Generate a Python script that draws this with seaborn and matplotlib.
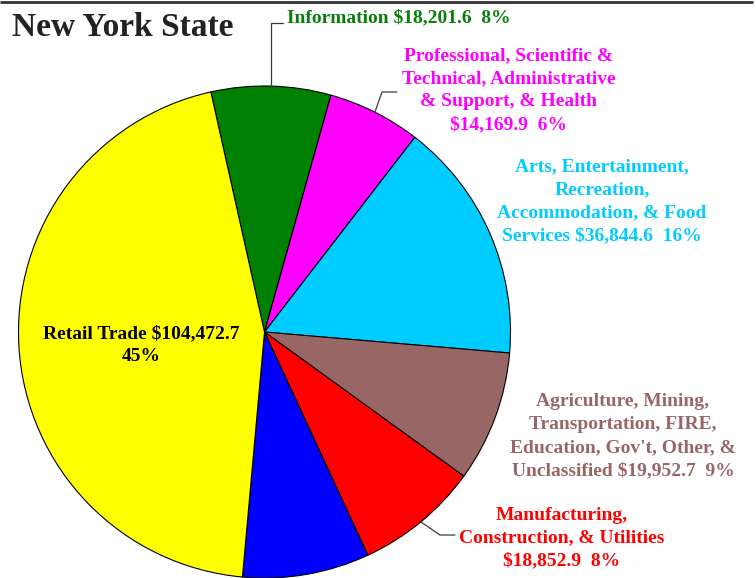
import numpy as np
import matplotlib
matplotlib.use("Agg")
import matplotlib.pyplot as plt
import seaborn as sns

# data ($ millions, shares in %)
sectors = ["Information",
           "Professional, Scientific &\nTechnical, Administrative\n& Support, & Health\n",
           "Arts, Entertainment,\nRecreation,\nAccommodation, & Food\nServices",
           "Agriculture, Mining,\nTransportation, FIRE,\nEducation, Gov't, Other, &\nUnclassified",
           "Manufacturing,\nConstruction, & Utilities\n",
           "",
           "Retail Trade"]
values = [18201.6, 14169.9, 36844.6, 19952.7, 18852.9, 19300.0, 104472.7]
shares = [8, 6, 16, 9, 8, None, 45]
slice_colors = ["#008000", "#FF00FF", "#00CCFF", "#996666", "#FF0000", "#0000FF", "#FFFF00"]
text_colors = ["#0B7D0B", "#FF00FF", "#00CCFF", "#996666", "#FF0000", "#0000FF", "#000000"]

sns.set_theme(style="white")
plt.rcParams['font.family'] = ['Liberation Serif', 'DejaVu Serif']

W, H = 756, 578
fig = plt.figure(figsize=(W / 100, H / 100), dpi=100)
ax = fig.add_axes([0, 0, 1, 1])


def Y(y):
    # image pixel row -> axes y
    return H - y


cx, cy, r = 264.5, Y(332), 246
palette = sns.color_palette(slice_colors)
wedges, _ = ax.pie(values, colors=palette, startangle=102.6, counterclock=False,
                   center=(cx, cy), radius=r,
                   wedgeprops=dict(edgecolor="black", linewidth=0.8))
ax.set_xlim(0, W)
ax.set_ylim(0, H)
ax.set_aspect("equal")
ax.axis("off")


def anchor(w):
    t = np.deg2rad((w.theta1 + w.theta2) / 2)
    return cx + r * np.cos(t), cy + r * np.sin(t)


# labels: (index, x, y, ha)
label_pos = [(0, 287, 18, "left"),
             (1, 509, 90, "center"),
             (2, 602, 201, "center"),
             (3, 623, 436, "center"),
             (4, 562, 538, "center"),
             (6, 141, 345, "center")]
for i, x, y, ha in label_pos:
    sep = "\n" if i == 6 else "  "
    name = sectors[i]
    if not name.endswith("\n"):
        name += " "
    txt = "{}${:,.1f}{}{}%".format(name, values[i], sep, shares[i])
    ax.text(x, Y(y), txt, ha=ha, va="center", multialignment="center",
            color=text_colors[i], fontsize=14, fontweight="bold", linespacing=1.45)

# leader lines
lc = "#3a3a3a"
ax0, ay0 = anchor(wedges[0])
ax.plot([ax0, ax0, 283], [ay0, Y(23), Y(23)], color=lc, lw=0.9)
ax1, ay1 = anchor(wedges[1])
ax.plot([ax1, 382, 397], [ay1, Y(92), Y(92)], color=lc, lw=0.9)
ax4, ay4 = anchor(wedges[4])
ax.plot([ax4, 440, 455], [ay4, Y(535), Y(535)], color=lc, lw=0.9)

# title and top rule
ax.text(12, Y(27), "New York State", ha="left", va="center", fontsize=24,
        fontweight="bold", color="#222222")
ax.plot([0, 753], [Y(2), Y(2)], color="#333333", lw=2, solid_capstyle="butt",
        clip_on=False)

fig.savefig("out.png", dpi=100)
